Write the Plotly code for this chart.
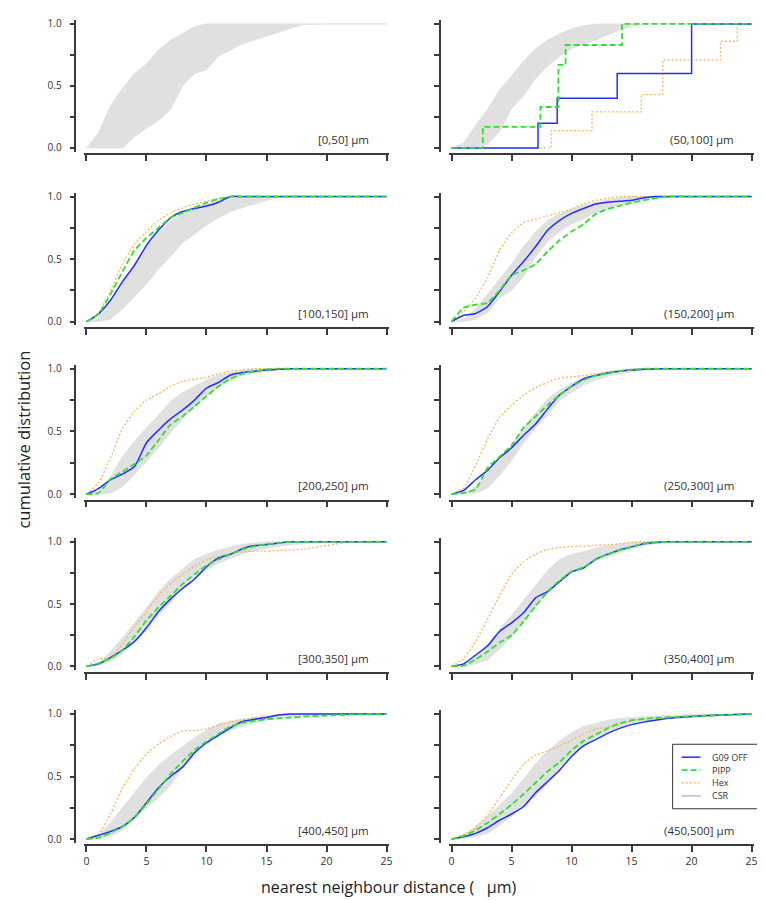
import plotly.graph_objects as go

# ---------------- data ----------------
GRID = [0, 1, 2, 3, 4, 5, 6, 7, 8, 9, 10, 11, 12, 13, 14, 15, 16, 17, 18, 20, 22, 25]
X_TICKS = [0, 5, 10, 15, 20, 25]
X_TICKTEXT = ["0", "5", "10", "15", "20", "25"]
Y_TICKS = [0, 0.25, 0.5, 0.75, 1.0]
Y_TICKTEXT = ["0.0", "", "0.5", "", "1.0"]

PANEL_LABELS = ["[0,50] µm", "(50,100] µm", "[100,150] µm", "(150,200] µm",
                "[200,250] µm", "(250,300] µm", "[300,350] µm", "(350,400] µm",
                "[400,450] µm", "(450,500] µm"]
SERIES_NAMES = ["G09 OFF", "PIPP", "Hex", "CSR"]

# panel 1: CSR envelope only
P1_CSR_LO = [0, 0, 0, 0, 0.09, 0.16, 0.22, 0.31, 0.5, 0.6, 0.63, 0.74, 0.79, 0.84, 0.87, 0.9, 0.93, 0.965, 0.995, 1, 1, 1]
P1_CSR_HI = [0, 0.12, 0.34, 0.48, 0.6, 0.68, 0.79, 0.87, 0.92, 0.98, 1, 1, 1, 1, 1, 1, 1, 1, 1, 1, 1, 1]

# panel 2: few cells -> step functions
P2_CSR_LO = [0, 0, 0, 0.03, 0.13, 0.32, 0.42, 0.56, 0.66, 0.74, 0.8, 0.84, 0.87, 0.91, 0.95, 0.98, 1, 1, 1, 1, 1, 1]
P2_CSR_HI = [0, 0.04, 0.18, 0.31, 0.47, 0.58, 0.7, 0.8, 0.87, 0.92, 0.96, 0.985, 1, 1, 1, 1, 1, 1, 1, 1, 1, 1]
P2_G09_X = [0, 7.2, 8.8, 13.8, 20.0, 25]
P2_G09_Y = [0, 0.2, 0.4, 0.6, 1.0, 1.0]
P2_PIPP_X = [0, 2.6, 7.4, 8.9, 9.5, 14.2, 25]
P2_PIPP_Y = [0, 0.17, 0.33, 0.67, 0.83, 1.0, 1.0]
P2_HEX_X = [0, 8.3, 11.7, 15.8, 17.6, 22.4, 23.8, 25]
P2_HEX_Y = [0, 0.14, 0.29, 0.43, 0.71, 0.86, 1.0, 1.0]

P3_G09 = [0, 0.06, 0.17, 0.32, 0.45, 0.61, 0.73, 0.83, 0.88, 0.905, 0.925, 0.955, 1, 1, 1, 1, 1, 1, 1, 1, 1, 1]
P3_PIPP = [0, 0.06, 0.22, 0.4, 0.57, 0.67, 0.75, 0.83, 0.87, 0.91, 0.95, 0.98, 1, 1, 1, 1, 1, 1, 1, 1, 1, 1]
P3_HEX = [0, 0.07, 0.25, 0.46, 0.62, 0.72, 0.81, 0.87, 0.91, 0.94, 0.965, 0.985, 0.995, 1, 1, 1, 1, 1, 1, 1, 1, 1]
P3_CSR_LO = [0, 0, 0.02, 0.1, 0.2, 0.3, 0.42, 0.52, 0.63, 0.7, 0.77, 0.83, 0.88, 0.91, 0.94, 0.97, 0.99, 1, 1, 1, 1, 1]
P3_CSR_HI = [0, 0.03, 0.15, 0.32, 0.47, 0.6, 0.71, 0.8, 0.87, 0.92, 0.94, 0.97, 0.99, 1, 1, 1, 1, 1, 1, 1, 1, 1]

P4_G09 = [0, 0.05, 0.065, 0.12, 0.24, 0.37, 0.48, 0.6, 0.73, 0.81, 0.865, 0.905, 0.94, 0.955, 0.962, 0.97, 0.99, 1, 1, 1, 1, 1]
P4_PIPP = [0, 0.11, 0.135, 0.15, 0.25, 0.37, 0.41, 0.46, 0.56, 0.65, 0.72, 0.78, 0.86, 0.9, 0.925, 0.95, 0.97, 0.985, 1, 1, 1, 1]
P4_HEX = [0, 0.08, 0.19, 0.35, 0.57, 0.71, 0.79, 0.82, 0.845, 0.87, 0.9, 0.94, 0.97, 0.985, 1, 1, 1, 1, 1, 1, 1, 1]
P4_CSR_LO = [0, 0, 0.02, 0.07, 0.19, 0.25, 0.36, 0.52, 0.64, 0.72, 0.78, 0.82, 0.875, 0.905, 0.93, 0.95, 0.97, 0.985, 0.995, 1, 1, 1]
P4_CSR_HI = [0, 0.02, 0.1, 0.22, 0.34, 0.46, 0.6, 0.72, 0.81, 0.86, 0.9, 0.93, 0.955, 0.975, 0.99, 1, 1, 1, 1, 1, 1, 1]

P5_G09 = [0, 0.045, 0.115, 0.16, 0.22, 0.41, 0.51, 0.6, 0.67, 0.75, 0.845, 0.89, 0.95, 0.97, 0.98, 0.99, 0.995, 1, 1, 1, 1, 1]
P5_PIPP = [0, 0.01, 0.12, 0.18, 0.24, 0.31, 0.43, 0.555, 0.62, 0.7, 0.78, 0.86, 0.92, 0.96, 0.98, 0.995, 1, 1, 1, 1, 1, 1]
P5_HEX = [0, 0.09, 0.29, 0.52, 0.66, 0.75, 0.8, 0.86, 0.9, 0.915, 0.93, 0.96, 0.98, 0.99, 1, 1, 1, 1, 1, 1, 1, 1]
P5_CSR_LO = [0, 0, 0.01, 0.06, 0.16, 0.26, 0.37, 0.49, 0.6, 0.69, 0.78, 0.85, 0.91, 0.945, 0.965, 0.98, 0.99, 1, 1, 1, 1, 1]
P5_CSR_HI = [0, 0.02, 0.14, 0.3, 0.42, 0.53, 0.63, 0.74, 0.81, 0.86, 0.91, 0.95, 0.97, 0.985, 0.995, 1, 1, 1, 1, 1, 1, 1]

P6_G09 = [0, 0.03, 0.115, 0.19, 0.29, 0.37, 0.47, 0.56, 0.68, 0.79, 0.86, 0.92, 0.945, 0.965, 0.98, 0.99, 0.995, 1, 1, 1, 1, 1]
P6_PIPP = [0, 0.01, 0.04, 0.21, 0.3, 0.39, 0.53, 0.62, 0.71, 0.79, 0.86, 0.91, 0.945, 0.965, 0.98, 0.99, 1, 1, 1, 1, 1, 1]
P6_HEX = [0, 0.05, 0.23, 0.44, 0.61, 0.71, 0.79, 0.85, 0.89, 0.925, 0.935, 0.945, 0.96, 0.975, 0.985, 0.995, 1, 1, 1, 1, 1, 1]
P6_CSR_LO = [0, 0, 0.01, 0.05, 0.15, 0.27, 0.41, 0.53, 0.63, 0.75, 0.81, 0.87, 0.91, 0.94, 0.96, 0.975, 0.99, 0.995, 1, 1, 1, 1]
P6_CSR_HI = [0, 0.01, 0.06, 0.17, 0.27, 0.39, 0.53, 0.65, 0.76, 0.83, 0.885, 0.925, 0.955, 0.975, 0.99, 1, 1, 1, 1, 1, 1, 1]

P7_G09 = [0, 0.02, 0.07, 0.13, 0.2, 0.31, 0.44, 0.54, 0.625, 0.7, 0.8, 0.87, 0.9, 0.945, 0.97, 0.978, 0.99, 1, 1, 1, 1, 1]
P7_PIPP = [0, 0.025, 0.065, 0.13, 0.24, 0.37, 0.475, 0.565, 0.66, 0.74, 0.81, 0.86, 0.9, 0.94, 0.965, 0.98, 0.99, 1, 1, 1, 1, 1]
P7_HEX = [0, 0.06, 0.07, 0.18, 0.32, 0.44, 0.57, 0.665, 0.74, 0.805, 0.855, 0.885, 0.905, 0.92, 0.925, 0.925, 0.93, 0.935, 0.94, 0.97, 1, 1]
P7_CSR_LO = [0, 0.005, 0.04, 0.1, 0.19, 0.29, 0.41, 0.51, 0.63, 0.7, 0.775, 0.83, 0.87, 0.905, 0.93, 0.95, 0.965, 0.975, 0.985, 0.995, 1, 1]
P7_CSR_HI = [0, 0.02, 0.12, 0.23, 0.35, 0.47, 0.6, 0.7, 0.78, 0.86, 0.9, 0.935, 0.96, 0.98, 0.99, 1, 1, 1, 1, 1, 1, 1]

P8_G09 = [0, 0.02, 0.09, 0.165, 0.28, 0.35, 0.43, 0.55, 0.6, 0.68, 0.76, 0.79, 0.86, 0.9, 0.935, 0.96, 0.985, 0.995, 1, 1, 1, 1]
P8_PIPP = [0, 0.005, 0.055, 0.12, 0.19, 0.25, 0.36, 0.485, 0.6, 0.69, 0.76, 0.795, 0.86, 0.9, 0.935, 0.96, 0.985, 0.995, 1, 1, 1, 1]
P8_HEX = [0, 0.06, 0.2, 0.38, 0.57, 0.74, 0.84, 0.9, 0.94, 0.955, 0.962, 0.966, 0.972, 0.978, 0.985, 0.995, 1, 1, 1, 1, 1, 1]
P8_CSR_LO = [0, 0, 0.02, 0.05, 0.14, 0.24, 0.36, 0.49, 0.58, 0.68, 0.75, 0.8, 0.845, 0.885, 0.915, 0.945, 0.97, 0.985, 0.995, 1, 1, 1]
P8_CSR_HI = [0, 0.02, 0.07, 0.18, 0.3, 0.41, 0.53, 0.65, 0.77, 0.86, 0.9, 0.92, 0.95, 0.97, 0.985, 0.995, 1, 1, 1, 1, 1, 1]

P9_G09 = [0, 0.03, 0.06, 0.1, 0.174, 0.29, 0.41, 0.5, 0.575, 0.69, 0.77, 0.83, 0.89, 0.94, 0.958, 0.972, 0.992, 1, 1, 1, 1, 1]
P9_PIPP = [0, 0.01, 0.05, 0.1, 0.174, 0.28, 0.4, 0.52, 0.62, 0.71, 0.78, 0.84, 0.9, 0.93, 0.945, 0.958, 0.965, 0.972, 0.978, 0.988, 0.995, 1]
P9_HEX = [0, 0.04, 0.2, 0.41, 0.56, 0.68, 0.76, 0.82, 0.865, 0.865, 0.88, 0.91, 0.935, 0.955, 0.97, 0.98, 0.99, 0.995, 1, 1, 1, 1]
P9_CSR_LO = [0, 0.005, 0.02, 0.07, 0.16, 0.25, 0.33, 0.43, 0.57, 0.665, 0.76, 0.82, 0.87, 0.905, 0.93, 0.95, 0.963, 0.975, 0.983, 0.993, 1, 1]
P9_CSR_HI = [0, 0.03, 0.13, 0.25, 0.37, 0.49, 0.59, 0.67, 0.74, 0.81, 0.87, 0.92, 0.945, 0.96, 0.975, 0.99, 1, 1, 1, 1, 1, 1]

P10_G09 = [0, 0.018, 0.045, 0.09, 0.15, 0.2, 0.26, 0.37, 0.46, 0.55, 0.66, 0.745, 0.795, 0.845, 0.885, 0.915, 0.935, 0.95, 0.965, 0.98, 0.99, 1]
P10_PIPP = [0, 0.025, 0.07, 0.13, 0.2, 0.275, 0.36, 0.45, 0.54, 0.615, 0.71, 0.785, 0.835, 0.885, 0.925, 0.95, 0.96, 0.968, 0.973, 0.982, 0.99, 1]
P10_HEX = [0, 0.035, 0.09, 0.19, 0.33, 0.47, 0.6, 0.67, 0.705, 0.745, 0.79, 0.84, 0.88, 0.895, 0.92, 0.945, 0.96, 0.97, 0.975, 0.985, 0.993, 1]
P10_CSR_LO = [0, 0.005, 0.02, 0.045, 0.11, 0.18, 0.255, 0.345, 0.44, 0.55, 0.66, 0.745, 0.81, 0.86, 0.89, 0.913, 0.93, 0.95, 0.96, 0.975, 0.985, 1]
P10_CSR_HI = [0, 0.03, 0.1, 0.18, 0.27, 0.365, 0.48, 0.6, 0.705, 0.785, 0.85, 0.9, 0.925, 0.95, 0.965, 0.975, 0.98, 0.985, 0.99, 0.995, 1, 1]

# ---------------- styles ----------------
C_G09 = "#2030ff"
C_PIPP = "#30e030"
C_HEX = "#f6b756"
C_CSR = "#e0e0e0"
AXC = "#3a3a3a"
FONT = "Open Sans"

panels = [
    dict(lo=P1_CSR_LO, hi=P1_CSR_HI, lines=None),
    dict(lo=P2_CSR_LO, hi=P2_CSR_HI, lines=[(P2_HEX_X, P2_HEX_Y), (P2_G09_X, P2_G09_Y), (P2_PIPP_X, P2_PIPP_Y)], step=True),
    dict(lo=P3_CSR_LO, hi=P3_CSR_HI, lines=[(GRID, P3_HEX), (GRID, P3_G09), (GRID, P3_PIPP)]),
    dict(lo=P4_CSR_LO, hi=P4_CSR_HI, lines=[(GRID, P4_HEX), (GRID, P4_G09), (GRID, P4_PIPP)]),
    dict(lo=P5_CSR_LO, hi=P5_CSR_HI, lines=[(GRID, P5_HEX), (GRID, P5_G09), (GRID, P5_PIPP)]),
    dict(lo=P6_CSR_LO, hi=P6_CSR_HI, lines=[(GRID, P6_HEX), (GRID, P6_G09), (GRID, P6_PIPP)]),
    dict(lo=P7_CSR_LO, hi=P7_CSR_HI, lines=[(GRID, P7_HEX), (GRID, P7_G09), (GRID, P7_PIPP)]),
    dict(lo=P8_CSR_LO, hi=P8_CSR_HI, lines=[(GRID, P8_HEX), (GRID, P8_G09), (GRID, P8_PIPP)]),
    dict(lo=P9_CSR_LO, hi=P9_CSR_HI, lines=[(GRID, P9_HEX), (GRID, P9_G09), (GRID, P9_PIPP)]),
    dict(lo=P10_CSR_LO, hi=P10_CSR_HI, lines=[(GRID, P10_HEX), (GRID, P10_G09), (GRID, P10_PIPP)]),
]

W, H = 765, 900
ROW_TOP = [12, 186, 359.5, 534, 707.5]      # pixel of y = 1
ROW_ZERO = [137, 312, 486, 659.5, 833.5]    # pixel of y = 0
COL_X0 = [78, 445.5]                        # pixel of x = 0
PX_PER_UM = 12.08
YAX_PX = [66.8, 433.5]
XPAD, YPAD = 0.2, 0.03

line_styles = [
    dict(color=C_HEX, width=1.3, dash="2px,2px"),
    dict(color=C_G09, width=1.5),
    dict(color=C_PIPP, width=1.8, dash="6px,3px"),
]
line_names = ["Hex", "G09 OFF", "PIPP"]

fig = go.Figure()
layout_axes = {}
annotations = []
shapes = []

for k, p in enumerate(panels):
    r, c = k // 2, k % 2
    sfx = "" if k == 0 else str(k + 1)
    xa, ya = "x" + sfx, "y" + sfx

    fig.add_trace(go.Scatter(x=GRID, y=p["lo"], mode="lines", xaxis=xa, yaxis=ya,
                             line=dict(color=C_CSR, width=0.8), showlegend=False, hoverinfo="skip"))
    fig.add_trace(go.Scatter(x=GRID, y=p["hi"], mode="lines", xaxis=xa, yaxis=ya, fill="tonexty",
                             fillcolor=C_CSR, line=dict(color=C_CSR, width=0.8),
                             showlegend=False, hoverinfo="skip"))
    if p["lines"]:
        for (xs, ys), st, nm in zip(p["lines"], line_styles, line_names):
            if p.get("step"):
                shp = dict(shape="hv")
            else:
                shp = dict(shape="spline", smoothing=0.5)
            fig.add_trace(go.Scatter(
                x=xs, y=ys, mode="lines", xaxis=xa, yaxis=ya, name=nm,
                line=dict(**shp, **st), showlegend=False))

    # axes geometry
    x0px = COL_X0[c]
    xdom = [(x0px - XPAD * PX_PER_UM) / W, (x0px + (25 + XPAD) * PX_PER_UM) / W]
    hpx = ROW_ZERO[r] - ROW_TOP[r]
    ydom = [1 - (ROW_ZERO[r] + YPAD * hpx) / H, 1 - (ROW_TOP[r] - YPAD * hpx) / H]
    layout_axes["xaxis" + sfx] = dict(
        domain=xdom, range=[-XPAD, 25 + XPAD], anchor="free",
        position=1 - (ROW_ZERO[r] + 6.5) / H,
        showline=True, linecolor=AXC, linewidth=1.5, ticks="outside", ticklen=6,
        tickwidth=1.5, tickcolor=AXC, tickvals=X_TICKS, ticktext=X_TICKTEXT,
        showticklabels=(r == 4), showgrid=False, zeroline=False,
        tickfont=dict(size=10.5, color="#333", family=FONT))
    layout_axes["yaxis" + sfx] = dict(
        domain=ydom, range=[-YPAD, 1 + YPAD], anchor="free", position=YAX_PX[c] / W,
        showline=True, linecolor=AXC, linewidth=1.5, ticks="outside", ticklen=5,
        tickwidth=1.5, tickcolor=AXC, tickvals=Y_TICKS, ticktext=Y_TICKTEXT,
        showticklabels=(c == 0), showgrid=False, zeroline=False, ticklabelstandoff=6,
        tickfont=dict(size=10, color="#333", family=FONT))
    annotations.append(dict(x=23.7, y=-0.01, xref=xa, yref=ya, text=PANEL_LABELS[k],
                            xanchor="right", yanchor="bottom", showarrow=False,
                            font=dict(size=11.5, color="#333", family=FONT)))

# ---------------- legend (drawn in panel 10 area, paper coords) ----------------
LEG_BOX = (668, 738, 758, 803)  # px: x0, y0, x1, y1
LEG_ROWS = [751, 764, 777, 790]
leg_styles = [dict(color=C_G09, width=1.5), dict(color=C_PIPP, width=1.8, dash="6px,3px"),
              dict(color=C_HEX, width=1.3, dash="2px,2px"), dict(color="#c8c8c8", width=2)]
shapes.append(dict(type="rect", xref="paper", yref="paper",
                   x0=LEG_BOX[0] / W, x1=LEG_BOX[2] / W, y0=1 - LEG_BOX[3] / H, y1=1 - LEG_BOX[1] / H,
                   line=dict(color="#333", width=1), fillcolor="white", layer="above"))
for name, yy, st in zip(SERIES_NAMES, LEG_ROWS, leg_styles):
    shapes.append(dict(type="line", xref="paper", yref="paper",
                       x0=677 / W, x1=696 / W, y0=1 - yy / H, y1=1 - yy / H,
                       line=st, layer="above"))
    annotations.append(dict(x=706 / W, y=1 - yy / H, xref="paper", yref="paper", text=name,
                            xanchor="left", yanchor="middle", showarrow=False,
                            font=dict(size=9, color="#333", family=FONT)))

annotations.append(dict(x=15 / W, y=1 - 431 / H, xref="paper", yref="paper",
                        text="cumulative distribution", textangle=-90, showarrow=False,
                        xanchor="center", yanchor="middle",
                        font=dict(size=16.5, color="#222", family=FONT)))
annotations.append(dict(x=383 / W, y=1 - 882 / H, xref="paper", yref="paper",
                        text="nearest neighbour distance (\u00a0\u00a0\u00a0µm)", showarrow=False,
                        xanchor="center", yanchor="middle",
                        font=dict(size=16, color="#222", family=FONT)))

fig.update_layout(
    width=W, height=H, margin=dict(l=0, r=0, t=0, b=0),
    plot_bgcolor="white", paper_bgcolor="white",
    font=dict(family=FONT, color="#333"),
    annotations=annotations, shapes=shapes, showlegend=False,
    **layout_axes,
)

fig.write_html("out.html")
